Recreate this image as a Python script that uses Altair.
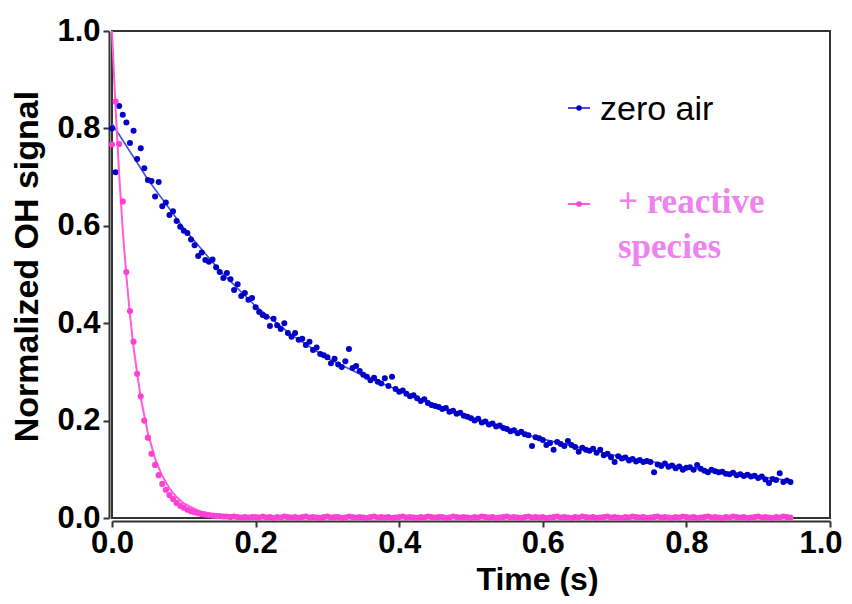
import altair as alt
import pandas as pd

# sample times (s)
time_s = [
    0.000, 0.005, 0.010, 0.015, 0.020, 0.025, 0.030, 0.035, 0.040, 0.045,
    0.050, 0.055, 0.060, 0.065, 0.070, 0.075, 0.080, 0.085, 0.090, 0.095,
    0.100, 0.105, 0.110, 0.115, 0.120, 0.125, 0.130, 0.135, 0.140, 0.145,
    0.150, 0.155, 0.160, 0.165, 0.170, 0.175, 0.180, 0.185, 0.190, 0.195,
    0.200, 0.205, 0.210, 0.215, 0.220, 0.225, 0.230, 0.235, 0.240, 0.245,
    0.250, 0.255, 0.260, 0.265, 0.270, 0.275, 0.280, 0.285, 0.290, 0.295,
    0.300, 0.305, 0.310, 0.315, 0.320, 0.325, 0.330, 0.335, 0.340, 0.345,
    0.350, 0.355, 0.360, 0.365, 0.370, 0.375, 0.380, 0.385, 0.390, 0.395,
    0.400, 0.405, 0.410, 0.415, 0.420, 0.425, 0.430, 0.435, 0.440, 0.445,
    0.450, 0.455, 0.460, 0.465, 0.470, 0.475, 0.480, 0.485, 0.490, 0.495,
    0.500, 0.505, 0.510, 0.515, 0.520, 0.525, 0.530, 0.535, 0.540, 0.545,
    0.550, 0.555, 0.560, 0.565, 0.570, 0.575, 0.580, 0.585, 0.590, 0.595,
    0.600, 0.605, 0.610, 0.615, 0.620, 0.625, 0.630, 0.635, 0.640, 0.645,
    0.650, 0.655, 0.660, 0.665, 0.670, 0.675, 0.680, 0.685, 0.690, 0.695,
    0.700, 0.705, 0.710, 0.715, 0.720, 0.725, 0.730, 0.735, 0.740, 0.745,
    0.750, 0.755, 0.760, 0.765, 0.770, 0.775, 0.780, 0.785, 0.790, 0.795,
    0.800, 0.805, 0.810, 0.815, 0.820, 0.825, 0.830, 0.835, 0.840, 0.845,
    0.850, 0.855, 0.860, 0.865, 0.870, 0.875, 0.880, 0.885, 0.890, 0.895,
    0.900, 0.905, 0.910, 0.915, 0.920, 0.925, 0.930, 0.935, 0.940, 0.945,
]

# normalized OH signal, zero air
zero_air = [
    0.800, 0.710, 0.846, 0.828, 0.812, 0.770, 0.795, 0.737, 0.759, 0.718,
    0.694, 0.692, 0.660, 0.690, 0.640, 0.648, 0.622, 0.630, 0.610, 0.598,
    0.590, 0.585, 0.572, 0.560, 0.538, 0.545, 0.530, 0.526, 0.531, 0.515,
    0.505, 0.493, 0.503, 0.490, 0.468, 0.480, 0.456, 0.462, 0.448, 0.452,
    0.433, 0.423, 0.417, 0.413, 0.394, 0.409, 0.396, 0.388, 0.400, 0.380,
    0.372, 0.380, 0.366, 0.368, 0.355, 0.362, 0.345, 0.350, 0.337, 0.334,
    0.330, 0.318, 0.327, 0.315, 0.310, 0.322, 0.347, 0.308, 0.312, 0.302,
    0.294, 0.290, 0.283, 0.288, 0.280, 0.276, 0.287, 0.271, 0.290, 0.265,
    0.259, 0.262, 0.255, 0.250, 0.252, 0.246, 0.240, 0.244, 0.236, 0.232,
    0.230, 0.228, 0.224, 0.226, 0.218, 0.220, 0.214, 0.216, 0.210, 0.208,
    0.205, 0.200, 0.204, 0.196, 0.198, 0.192, 0.194, 0.188, 0.190, 0.185,
    0.183, 0.178, 0.180, 0.174, 0.177, 0.172, 0.170, 0.148, 0.166, 0.164,
    0.160, 0.150, 0.154, 0.140, 0.156, 0.152, 0.148, 0.158, 0.150, 0.146,
    0.136, 0.144, 0.140, 0.138, 0.142, 0.134, 0.140, 0.129, 0.132, 0.125,
    0.115, 0.127, 0.122, 0.124, 0.118, 0.121, 0.116, 0.119, 0.115, 0.117,
    0.115, 0.094, 0.110, 0.107, 0.112, 0.105, 0.108, 0.102, 0.106, 0.099,
    0.103, 0.104, 0.099, 0.109, 0.101, 0.097, 0.094, 0.099, 0.096, 0.094,
    0.095, 0.091, 0.090, 0.093, 0.088, 0.090, 0.086, 0.089, 0.085, 0.087,
    0.082, 0.085, 0.079, 0.072, 0.080, 0.078, 0.092, 0.074, 0.077, 0.074,
]

# normalized OH signal, + reactive species
reactive = [
    0.767, 0.855, 0.768, 0.650, 0.505, 0.425, 0.362, 0.296, 0.250, 0.200,
    0.165, 0.132, 0.109, 0.088, 0.070, 0.058, 0.047, 0.039, 0.031, 0.025,
    0.021, 0.017, 0.014, 0.012, 0.010, 0.008, 0.007, 0.006, 0.005, 0.004,
    0.004, 0.003, 0.003, 0.002, 0.003, 0.002, 0.001, 0.002, 0.001, 0.002,
    0.002, 0.001, 0.003, 0.001, 0.002, 0.000, 0.002, 0.001, 0.003, 0.002,
    0.001, 0.002, 0.000, 0.002, 0.003, 0.001, 0.002, 0.001, 0.000, 0.002,
    0.003, 0.001, 0.002, 0.002, 0.000, 0.001, 0.003, 0.002, 0.001, 0.002,
    0.001, 0.000, 0.002, 0.003, 0.001, 0.002, 0.001, 0.002, 0.000, 0.001,
    0.002, 0.003, 0.001, 0.002, 0.001, 0.000, 0.002, 0.001, 0.003, 0.002,
    0.001, 0.002, 0.002, 0.000, 0.001, 0.003, 0.002, 0.001, 0.002, 0.001,
    0.000, 0.002, 0.001, 0.003, 0.002, 0.001, 0.002, 0.000, 0.001, 0.002,
    0.003, 0.001, 0.002, 0.001, 0.000, 0.002, 0.003, 0.001, 0.002, 0.001,
    0.002, 0.000, 0.001, 0.002, 0.003, 0.001, 0.002, 0.001, 0.000, 0.002,
    0.001, 0.003, 0.002, 0.001, 0.002, 0.000, 0.001, 0.002, 0.003, 0.001,
    0.002, 0.001, 0.000, 0.002, 0.001, 0.003, 0.002, 0.001, 0.002, 0.000,
    0.001, 0.002, 0.003, 0.001, 0.002, 0.001, 0.000, 0.002, 0.001, 0.003,
    0.002, 0.001, 0.002, 0.000, 0.001, 0.002, 0.003, 0.001, 0.002, 0.001,
    0.000, 0.002, 0.001, 0.003, 0.002, 0.001, 0.002, 0.000, 0.001, 0.002,
    0.003, 0.001, 0.002, 0.001, 0.000, 0.002, 0.001, 0.003, 0.002, 0.001,
]

# fitted decay curves
fit_t_zero = [0.0, 0.05, 0.10, 0.15, 0.20, 0.25, 0.30, 0.35, 0.40, 0.45,
              0.50, 0.55, 0.60, 0.65, 0.70, 0.75, 0.80, 0.85, 0.90, 0.945]
fit_zero = [0.810, 0.695, 0.595, 0.508, 0.435, 0.376, 0.328, 0.292, 0.262, 0.232,
            0.205, 0.181, 0.162, 0.145, 0.129, 0.116, 0.104, 0.094, 0.085, 0.077]

fit_t_react = [0.0, 0.005, 0.010, 0.015, 0.020, 0.025, 0.030, 0.040, 0.050, 0.060,
               0.070, 0.080, 0.090, 0.100, 0.120, 0.140, 0.160, 0.200, 0.300, 0.500,
               0.700, 0.945]
fit_react = [1.000, 0.840, 0.705, 0.590, 0.497, 0.418, 0.350, 0.247, 0.174, 0.122,
             0.086, 0.061, 0.043, 0.030, 0.015, 0.0075, 0.0037, 0.0009, 0.0, 0.0,
             0.0, 0.0]

x_ticks = [0.0, 0.2, 0.4, 0.6, 0.8, 1.0]
y_ticks = [0.0, 0.2, 0.4, 0.6, 0.8, 1.0]

BLUE_PT = "#0000C8"
BLUE_LN = "#4C4CD6"
PINK_PT = "#FF40D4"
PINK_LN = "#FF5CDC"
PINK_TXT = "#EE82EE"

pts_zero = pd.DataFrame({"t": time_s, "v": zero_air})
pts_react = pd.DataFrame({"t": time_s, "v": reactive})
ln_zero = pd.DataFrame({"t": fit_t_zero, "v": fit_zero})
ln_react = pd.DataFrame({"t": fit_t_react, "v": fit_react})

axis_common = dict(
    grid=False, offset=3,
    domainColor="#333333", domainWidth=2,
    tickColor="#333333", tickWidth=2, tickSize=6,
    labelFont="Liberation Sans", labelFontWeight="bold", labelFontSize=31,
    labelColor="black", labelFlush=False, labelOverlap=False,
    titleFont="Liberation Sans", titleFontWeight="bold", titleColor="black",
    format=".1f",
)

x_enc = alt.X("t:Q", scale=alt.Scale(domain=[0, 1], nice=False),
              axis=alt.Axis(values=x_ticks, title="Time (s)", titleFontSize=32,
                            labelPadding=1,
                            labelAlign={"expr": "datum.value >= 1 ? 'right' : 'center'"},
                            labelOffset={"expr": "datum.value >= 1 ? 12 : 0"},
                            titleX=425, titleY=68, titleAlign="center",
                            titleBaseline="alphabetic", **axis_common))
y_enc = alt.Y("v:Q", scale=alt.Scale(domain=[0, 1], nice=False),
              axis=alt.Axis(values=y_ticks, title="Normalized OH signal", titleFontSize=34,
                            labelPadding=3,
                            titleX=-72, titleY=235, titleAlign="center", titleAngle=270,
                            titleBaseline="alphabetic", **axis_common))

blue_line = alt.Chart(ln_zero).mark_line(color=BLUE_LN, strokeWidth=1.6).encode(x=x_enc, y=y_enc)
pink_line = alt.Chart(ln_react).mark_line(color=PINK_LN, strokeWidth=2).encode(x=x_enc, y=y_enc)
blue_pts = alt.Chart(pts_zero).mark_circle(color=BLUE_PT, size=36, opacity=1).encode(x=x_enc, y=y_enc)
pink_pts = alt.Chart(pts_react).mark_circle(color=PINK_PT, size=38, opacity=1).encode(x=x_enc, y=y_enc)

one = pd.DataFrame({"k": [0]})
leg_blue_rule = alt.Chart(one).mark_rule(color=BLUE_LN, strokeWidth=2).encode(
    x=alt.value(456), x2=alt.value(478), y=alt.value(77))
leg_blue_dot = alt.Chart(one).mark_circle(color=BLUE_PT, size=30, opacity=1).encode(
    x=alt.value(467), y=alt.value(77))
leg_blue_txt = alt.Chart(pd.DataFrame({"label": ["zero air"]})).mark_text(
    align="left", baseline="alphabetic", font="Liberation Sans", fontSize=34, color="black"
).encode(x=alt.value(488), y=alt.value(89), text="label:N")

leg_pink_rule = alt.Chart(one).mark_rule(color=PINK_LN, strokeWidth=2).encode(
    x=alt.value(456), x2=alt.value(478), y=alt.value(173))
leg_pink_dot = alt.Chart(one).mark_circle(color=PINK_PT, size=32, opacity=1).encode(
    x=alt.value(467), y=alt.value(173))
leg_pink_txt1 = alt.Chart(pd.DataFrame({"label": ["+ reactive"]})).mark_text(
    align="left", baseline="alphabetic", font="Liberation Serif", fontWeight="bold",
    fontSize=35, color=PINK_TXT
).encode(x=alt.value(506), y=alt.value(182), text="label:N")
leg_pink_txt2 = alt.Chart(pd.DataFrame({"label": ["species"]})).mark_text(
    align="left", baseline="alphabetic", font="Liberation Serif", fontWeight="bold",
    fontSize=35, color=PINK_TXT
).encode(x=alt.value(506), y=alt.value(227), text="label:N")

chart = alt.layer(
    blue_line, blue_pts, pink_line, pink_pts,
    leg_blue_rule, leg_blue_dot, leg_blue_txt,
    leg_pink_rule, leg_pink_dot, leg_pink_txt1, leg_pink_txt2,
).properties(
    width=718, height=487,
    autosize=alt.AutoSizeParams(type="none"),
    padding={"left": 104, "top": 23, "right": 14, "bottom": 78},
    background="white",
).configure_view(stroke="#333333", strokeWidth=2)

chart.save("out.html", embed_options={"renderer": "svg", "actions": False})
